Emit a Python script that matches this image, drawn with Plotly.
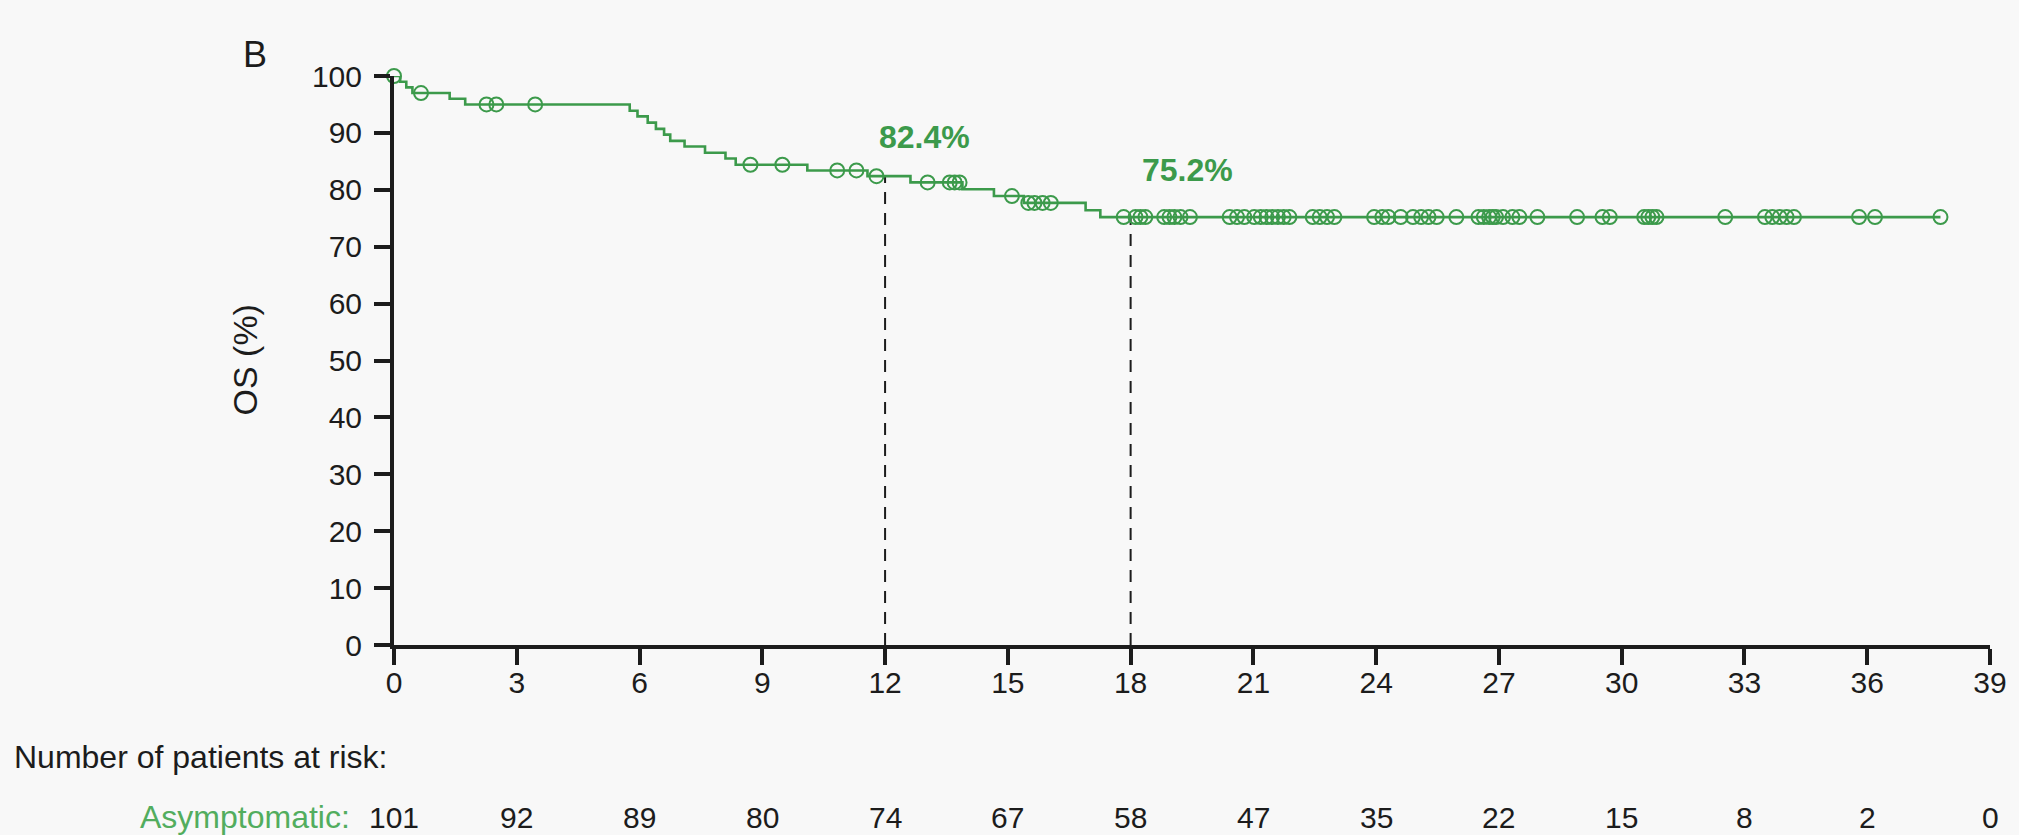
import numpy as np
import plotly.graph_objects as go

# Kaplan-Meier overall survival, asymptomatic group
event_months = [0, 0.15, 0.3, 0.45, 1.36, 1.74, 5.76, 5.95, 6.2, 6.4, 6.6, 6.75,
                7.1, 7.6, 8.1, 8.35, 10.1, 11.57, 12.62, 13.89, 14.66, 15.39,
                16.9, 17.26]
survival_pct = [100, 99.0, 98.0, 97.0, 96.0, 95.0, 93.9, 92.9, 91.8, 90.7, 89.7,
                88.6, 87.6, 86.5, 85.5, 84.4, 83.4, 82.4, 81.3, 80.1, 78.9,
                77.7, 76.4, 75.2]

censor_months = [0, 0.66, 2.26, 2.5, 3.45, 8.71, 9.49, 10.83, 11.3, 11.79,
                 13.04, 13.58, 13.7, 13.82, 15.1, 15.5, 15.65, 15.85, 16.05,
                 17.83, 18.12, 18.24, 18.36, 18.82, 18.95, 19.07, 19.22, 19.45,
                 20.42, 20.6, 20.78,
                 21.02, 21.18, 21.32, 21.46, 21.6, 21.74, 21.88,
                 22.45, 22.62, 22.8, 22.98,
                 23.95, 24.15, 24.3,
                 24.6, 24.9, 25.1, 25.28, 25.48,
                 25.96,
                 26.5, 26.63, 26.76, 26.85, 26.93, 27.1, 27.33, 27.5, 27.94,
                 28.91,
                 29.53, 29.71,
                 30.55, 30.65, 30.75, 30.85,
                 32.53,
                 33.5, 33.68, 33.86, 34.03, 34.21,
                 35.8, 36.19,
                 37.79]

landmark_months = [12, 18]
landmark_pct = [82.4, 75.2]

x_ticks = list(range(0, 40, 3))
y_ticks = list(range(0, 101, 10))
at_risk = [101, 92, 89, 80, 74, 67, 58, 47, 35, 22, 15, 8, 2, 0]

GREEN = "#3c9a4b"
LIGHT_GREEN = "#52ad5e"
INK = "#1c1c1c"
BG = "#f8f8f8"
FONT = "Liberation Sans, Arial, sans-serif"

# step curve runs to the last follow-up time
step_x = event_months + [censor_months[-1]]
step_y = survival_pct + [survival_pct[-1]]

ev = np.array(event_months)
sv = np.array(survival_pct)
idx = np.searchsorted(ev, np.array(censor_months), side="right") - 1
censor_y = sv[idx]

fig = go.Figure()

for m, v in zip(landmark_months, landmark_pct):
    fig.add_trace(go.Scatter(
        x=[m, m], y=[0, v], mode="lines",
        line=dict(color=INK, width=2, dash="12px,9px"),
        hoverinfo="skip",
    ))

fig.add_trace(go.Scatter(
    x=step_x, y=step_y, mode="lines",
    line=dict(color=GREEN, width=2.6, shape="hv"),
    cliponaxis=False,
))
fig.add_trace(go.Scatter(
    x=censor_months, y=censor_y, mode="markers",
    marker=dict(symbol="circle-open", size=14, color=GREEN,
                line=dict(color=GREEN, width=2)),
    cliponaxis=False,
))

annotations = []
# landmark percentages
shifts = [(39, 39), (57, 47)]
for (m, v), (dx, dy) in zip(zip(landmark_months, landmark_pct), shifts):
    annotations.append(dict(
        x=m, y=v, xref="x", yref="y", text=f"<b>{v}%</b>",
        showarrow=False, xanchor="center", yanchor="middle",
        xshift=dx, yshift=dy,
        font=dict(family=FONT, size=32, color=GREEN),
    ))

# numbers at risk below the time axis
annotations.append(dict(
    x=0, y=0, xref="paper", yref="paper", text="Number of patients at risk:",
    showarrow=False, xanchor="left", yanchor="middle",
    xshift=-382, yshift=-112,
    font=dict(family=FONT, size=32, color=INK),
))
annotations.append(dict(
    x=0, y=0, xref="x", yref="paper", text="Asymptomatic:",
    showarrow=False, xanchor="right", yanchor="middle",
    xshift=-42, yshift=-172,
    font=dict(family=FONT, size=32, color=LIGHT_GREEN),
))
for t, n in zip(x_ticks, at_risk):
    annotations.append(dict(
        x=t, y=0, xref="x", yref="paper", text=str(n),
        showarrow=False, xanchor="center", yanchor="middle",
        yshift=-172,
        font=dict(family=FONT, size=30, color=INK),
    ))

# axis title and panel letter
annotations.append(dict(
    x=0, y=0.5, xref="paper", yref="paper", text="OS (%)",
    showarrow=False, textangle=-90, xanchor="center", yanchor="middle",
    xshift=-150,
    font=dict(family=FONT, size=34, color=INK),
))
annotations.append(dict(
    x=0, y=1, xref="paper", yref="paper", text="B",
    showarrow=False, xanchor="center", yanchor="middle",
    xshift=-139, yshift=22,
    font=dict(family=FONT, size=36, color=INK),
))

axis_common = dict(
    showline=True, linewidth=4, linecolor=INK,
    ticks="outside", ticklen=16, tickwidth=3.5, tickcolor=INK,
    showgrid=False, zeroline=False,
    tickfont=dict(family=FONT, size=30, color=INK),
)

fig.update_layout(
    width=2019, height=835,
    margin=dict(l=394, r=22, t=76, b=190),
    paper_bgcolor=BG, plot_bgcolor=BG,
    showlegend=False,
    xaxis=dict(range=[0, 39], tickvals=x_ticks, ticklabelstandoff=-8,
               **axis_common),
    yaxis=dict(range=[0, 100], tickvals=y_ticks, ticklabelstandoff=6,
               **axis_common),
    annotations=annotations,
)

fig.write_html("out.html")
